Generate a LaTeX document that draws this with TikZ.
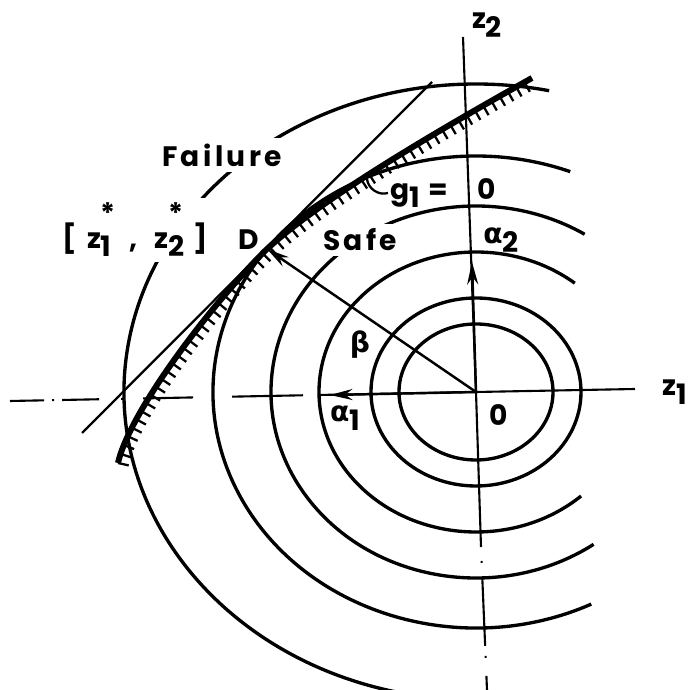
\documentclass[tikz,border=0pt]{standalone}
\usepackage{fontspec}
\setmainfont{Poppins}[LetterSpace=12]
\newfontfamily\grk{DejaVu Sans}
\usetikzlibrary{arrows.meta,decorations.pathreplacing}
\tikzset{
  ring/.style={line width=1.9pt},
  axis/.style={line width=1.2pt},
  tang/.style={line width=1.3pt},
  limit/.style={line width=3.4pt, postaction={decorate, draw, line width=1.3pt,
                decoration={border, segment length=1.9mm, amplitude=-2.2mm, angle=90}}},
  arr/.style={line width=1.4pt, -{Stealth[length=4.5mm, width=2.2mm]}},
  lbl/.style={font=\fontsize{16}{18}\selectfont\bfseries, inner sep=1pt},
  lblw/.style={lbl, fill=white, inner sep=3pt}
}
\newcommand{\lowr}[1]{\raisebox{-.55ex}{#1}}
\newcommand{\zst}[1]{z\lowr{\rlap{\raisebox{2.1ex}{*}}#1}}

\begin{document}
\begin{tikzpicture}[x=0.2mm, y=-0.2mm]
\useasboundingbox (0,0) rectangle (699,690);
\coordinate (O) at (476,392);
\coordinate (D) at (267,249);
\coordinate (xl) at (10,401); \coordinate (xm) at (318,395); \coordinate (xr) at (635,389);
\coordinate (yt) at (463,37); \coordinate (ym) at (481,547); \coordinate (yb) at (487,690);
% axes
\draw[axis] (xr) -- (xm);
\draw[axis, dash pattern=on 0mm off 3mm on 14.2mm off 7.8mm on 10mm off 4mm on .4mm off 4.4mm on 7.4mm off 1.6mm on .4mm off 1.6mm on 6mm]
  (xm) -- (xl);
\draw[axis] (yt) -- (O) -- (ym);
\draw[axis, dash pattern=on 0mm off 2.8mm on .4mm off 3mm on 13.6mm off 2mm on .4mm off 3.6mm on 6mm] (ym) -- (yb);
% rings
\draw[ring] (O) ellipse [x radius=77, y radius=68];
\draw[ring] (O) ellipse [x radius=105, y radius=94];
\foreach \rx/\ry/\a/\b in {157/140/48/309, 205/186/55/302, 263/236/64/291, 352/308/100/282}
  \draw[ring] (O) ++(\a:{\rx} and {\ry}) arc [start angle=\a, end angle=\b, x radius=\rx, y radius=\ry];
% limit state and tangent
\coordinate (l1) at (118,463); \coordinate (l2) at (532,78);
\draw[limit] (l1) .. controls (130,410) and (215,300) .. (D) .. controls (320,200) and (430,135) .. (l2);
\coordinate (t1) at (82,433); \coordinate (t2) at (432,82);
\draw[tang] (t1) -- (t2);
\coordinate (a1) at (330,395); \coordinate (a2) at (472,262);
\coordinate (gp) at (367,179);
% labels
\node[lblw] (fail) at (222,155) {Failure};
\node[lblw] (pt) at (135,230) {[\hspace{6pt}\zst{1}\hspace{10pt},\hspace{10pt}\zst{2}\hspace{5pt}]};
\node[lbl] (dl) at (249,240) {D};
\node[lblw] (safe) at (360,240) {Safe};
\node[lbl, anchor=west] (g) at (388,193) {g\lowr{1}\hspace{5pt}=\hspace{17pt}0};
\draw[tang] (gp) to[bend right=50] (g.west);
\node[lbl] (al2) at (501,240) {{\grk α}\lowr{2}};
\node[lbl] (be) at (360,345) {\grk β};
\node[lbl] (al1) at (345,418) {{\grk α}\lowr{1}};
\node[lbl] (o) at (499,415) {0};
\node[lbl] (z2) at (487,25) {z\lowr{2}};
\node[lbl, anchor=west] (z1) at (660,392) {z\lowr{1}};
% unit vectors and beta
\draw[arr] (O) -- (a1);
\draw[arr] (O) -- (a2);
\draw[arr] (O) -- (D);
\end{tikzpicture}
\end{document}
